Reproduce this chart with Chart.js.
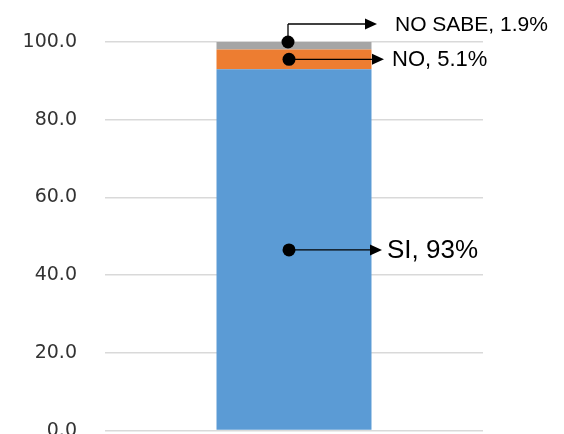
<!DOCTYPE html>
<html>
<head>
<meta charset="utf-8">
<script src="https://cdn.jsdelivr.net/npm/chart.js@4/dist/chart.umd.min.js"></script>
<style>
html,body{margin:0;padding:0;background:#fff;overflow:hidden;width:564px;height:434px;}
#wrap{width:564px;height:470px;}
canvas{display:block;}
</style>
</head>
<body>
<div id="wrap"><canvas id="c" width="564" height="470" style="width:564px;height:470px;"></canvas></div>
<script>
const categories = [''];
const siValues = [93];
const noValues = [5.1];
const noSabeValues = [1.9];
const yTickValues = [0, 20, 40, 60, 80, 100];
const seriesNames = ['SI', 'NO', 'NO SABE'];
const pointLabels = ['SI, 93%', 'NO, 5.1%', 'NO SABE, 1.9%'];

function arrow(ctx, x1, y1, x2, y2) {
  ctx.beginPath();
  ctx.moveTo(x1, y1);
  ctx.lineTo(x2 - 11, y2);
  ctx.stroke();
  ctx.beginPath();
  ctx.moveTo(x2, y2);
  ctx.lineTo(x2 - 12, y2 - 5.5);
  ctx.lineTo(x2 - 12, y2 + 5.5);
  ctx.closePath();
  ctx.fill();
}
function dot(ctx, x, y) {
  ctx.beginPath();
  ctx.arc(x, y, 6.5, 0, Math.PI * 2);
  ctx.fill();
}

const calloutPlugin = {
  id: 'callouts',
  afterDatasetsDraw(chart) {
    const ctx = chart.ctx;
    const xs = chart.scales.x, ys = chart.scales.y;
    const cx = xs.getPixelForValue(0) - 5;
    ctx.save();
    ctx.fillStyle = '#000';
    ctx.strokeStyle = '#000';
    ctx.lineWidth = 1.3;
    ctx.textBaseline = 'middle';
    ctx.textAlign = 'left';
    // SI
    const ySi = ys.getPixelForValue(siValues[0] / 2);
    dot(ctx, cx, ySi);
    arrow(ctx, cx, ySi, cx + 93, ySi);
    ctx.font = '26px "Liberation Sans", Arial, sans-serif';
    ctx.fillText(pointLabels[0], cx + 98, ySi + 1);
    // NO
    const yNo = ys.getPixelForValue(siValues[0] + noValues[0] / 2);
    dot(ctx, cx, yNo);
    arrow(ctx, cx, yNo, cx + 95, yNo);
    ctx.font = '22px "Liberation Sans", Arial, sans-serif';
    ctx.fillText(pointLabels[1], cx + 103, yNo + 1);
    // NO SABE
    const yNs = ys.getPixelForValue(siValues[0] + noValues[0] + noSabeValues[0]);
    dot(ctx, cx - 1, yNs);
    const yTop = yNs - 18;
    ctx.beginPath();
    ctx.moveTo(cx - 1, yNs);
    ctx.lineTo(cx - 1, yTop);
    ctx.stroke();
    arrow(ctx, cx - 1, yTop, cx + 88, yTop);
    ctx.font = '21px "Liberation Sans", Arial, sans-serif';
    ctx.fillText(pointLabels[2], cx + 106, yTop + 1);
    ctx.restore();
  }
};

new Chart(document.getElementById('c'), {
  type: 'bar',
  data: {
    labels: categories,
    datasets: [
      { label: seriesNames[0], data: siValues, backgroundColor: '#5B9BD5' },
      { label: seriesNames[1], data: noValues, backgroundColor: '#ED7D31' },
      { label: seriesNames[2], data: noSabeValues, backgroundColor: '#A5A5A5' }
    ]
  },
  options: {
    responsive: false,
    animation: false,
    layout: { padding: { top: 42, bottom: 0, right: 81, left: 0 } },
    plugins: { legend: { display: false }, tooltip: { enabled: false } },
    datasets: { bar: { categoryPercentage: 1, barPercentage: 0.41 } },
    scales: {
      x: { stacked: true, display: false },
      y: {
        stacked: true,
        min: 0, max: 100,
        afterFit(scale) { scale.width = 105; },
        afterBuildTicks(scale) { scale.ticks = yTickValues.map(v => ({ value: v })); },
        border: { display: false },
        grid: { color: '#d9d9d9', lineWidth: 1.5, drawTicks: false },
        ticks: {
          padding: 28,
          color: '#333333',
          font: { family: 'DejaVu Sans', size: 19 },
          callback: v => Number(v).toFixed(1)
        }
      }
    }
  },
  plugins: [calloutPlugin]
});
</script>
</body>
</html>
